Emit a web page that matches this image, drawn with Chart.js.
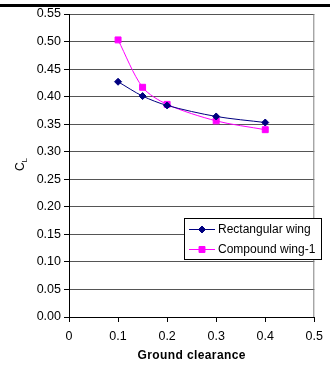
<!DOCTYPE html>
<html>
<head>
<meta charset="utf-8">
<script src="https://cdn.jsdelivr.net/npm/chart.js@4"></script>
<style>
  html, body { margin: 0; padding: 0; background: #fff; }
  #wrap { width: 330px; height: 365px; }
</style>
</head>
<body>
<div id="wrap"><canvas id="clChart" width="330" height="365"></canvas></div>
<script>
// Lift coefficient vs ground clearance
const clearance = [0.1, 0.15, 0.2, 0.3, 0.4];
const rectWing = [0.427, 0.401, 0.384, 0.364, 0.353];
const compoundWing = [0.503, 0.417, 0.386, 0.356, 0.340];
const seriesNames = ['Rectangular wing', 'Compound wing-1'];
const xTicks = [0, 0.1, 0.2, 0.3, 0.4, 0.5];
const yTicks = [0, 0.05, 0.1, 0.15, 0.2, 0.25, 0.3, 0.35, 0.4, 0.45, 0.5, 0.55];

const FONT = "'Liberation Sans', Arial, sans-serif";

function toPoints(xs, ys) {
    return xs.map((x, i) => ({ x: x, y: ys[i] }));
}

// background, frame, legend box and axis titles
const decor = {
    id: 'decor',
    beforeDraw(chart) {
        const c = chart.ctx;
        c.save();
        c.fillStyle = '#fff';
        c.fillRect(0, 0, chart.width, chart.height);
        c.fillStyle = '#000';
        c.fillRect(0, 4, chart.width, 3);
        c.restore();
    },
    afterDraw(chart) {
        const c = chart.ctx;
        const a = chart.chartArea;
        c.save();

        // right edge of plot area
        c.strokeStyle = '#808080';
        c.lineWidth = 1;
        c.beginPath();
        c.moveTo(a.right - 0.5, a.top);
        c.lineTo(a.right - 0.5, a.bottom);
        c.stroke();

        // legend
        const lx = 184.5, ly = 218.5, lw = 137, lh = 41;
        c.fillStyle = '#fff';
        c.fillRect(lx, ly, lw, lh);
        c.strokeStyle = '#000';
        c.strokeRect(lx, ly, lw, lh);
        c.font = '12px ' + FONT;
        c.textBaseline = 'middle';
        chart.data.datasets.forEach((ds, i) => {
            const cy = 229 + i * 20;
            c.strokeStyle = ds.borderColor;
            c.lineWidth = 1;
            c.beginPath();
            c.moveTo(189, cy + 0.5);
            c.lineTo(215, cy + 0.5);
            c.stroke();
            c.fillStyle = ds.pointBackgroundColor;
            c.strokeStyle = ds.pointBorderColor;
            Chart.helpers.drawPoint(c, {
                pointStyle: ds.pointStyle,
                radius: ds.pointRadius,
                rotation: 0,
                borderWidth: 1
            }, 202, cy + 0.5);
            c.fillStyle = '#000';
            c.fillText(ds.label, 218, cy + 1);
        });

        // x title
        c.font = 'bold 12px ' + FONT;
        c.letterSpacing = '0.4px';
        c.textAlign = 'center';
        c.fillStyle = '#000';
        c.fillText('Ground clearance', (a.left + a.right) / 2, 356);
        c.letterSpacing = '0px';

        // y title: C with subscript L
        c.translate(21, 165);
        c.rotate(-Math.PI / 2);
        c.textAlign = 'left';
        c.font = '12px ' + FONT;
        c.fillText('C', -6, 0);
        c.font = '8px ' + FONT;
        c.fillText('L', 2.5, 4);
        c.restore();
    }
};

const ctx = document.getElementById('clChart').getContext('2d');
new Chart(ctx, {
    type: 'scatter',
    data: {
        datasets: [{
            label: seriesNames[0],
            data: toPoints(clearance, rectWing),
            showLine: true,
            borderColor: '#000080',
            borderWidth: 1,
            pointStyle: 'rectRot',
            pointRadius: 3.5,
            pointBackgroundColor: '#000080',
            pointBorderColor: '#000080',
            tension: 0.3
        }, {
            label: seriesNames[1],
            data: toPoints(clearance, compoundWing),
            showLine: true,
            borderColor: '#ff00ff',
            borderWidth: 1,
            pointStyle: 'rect',
            pointRadius: 4.2,
            pointBackgroundColor: '#ff00ff',
            pointBorderColor: '#ff00ff',
            tension: 0.3
        }]
    },
    options: {
        responsive: false,
        animation: false,
        devicePixelRatio: 1,
        layout: { padding: { top: 14, right: 6, left: 0, bottom: 0 } },
        plugins: {
            legend: { display: false },
            tooltip: { enabled: false }
        },
        scales: {
            x: {
                type: 'linear',
                min: 0,
                max: 0.5,
                afterBuildTicks: (scale) => { scale.ticks = xTicks.map(v => ({ value: v })); },
                afterFit: (scale) => { scale.height = 48; },
                grid: { drawOnChartArea: false, drawTicks: true, tickLength: 5, color: '#000' },
                border: { color: '#000', width: 1 },
                ticks: {
                    color: '#000',
                    padding: 7,
                    maxRotation: 0,
                    font: { family: FONT, size: 12.5 },
                    callback: (v) => String(v)
                }
            },
            y: {
                min: 0,
                max: 0.55,
                afterBuildTicks: (scale) => { scale.ticks = yTicks.map(v => ({ value: v })); },
                afterFit: (scale) => { scale.width = 69; },
                grid: { color: '#555', tickColor: '#000', tickLength: 5, lineWidth: 1 },
                border: { color: '#000', width: 1 },
                ticks: {
                    color: '#000',
                    padding: 3,
                    font: { family: FONT, size: 12.5 },
                    callback: (v) => v.toFixed(2)
                }
            }
        }
    },
    plugins: [decor]
});
</script>
</body>
</html>
